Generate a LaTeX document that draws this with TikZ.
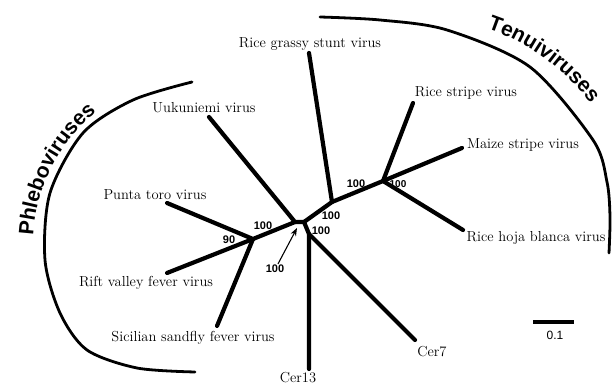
\documentclass[tikz,border=0pt]{standalone}
\usepackage{fontspec}
\setsansfont{Liberation Sans}
\usetikzlibrary{arrows.meta,decorations.text}

\tikzset{
  branch/.style={line width=4.2pt,line cap=round,line join=round},
  leaf/.style={font=\fontsize{14.5}{16}\selectfont,inner sep=1pt},
  boot/.style={font=\sffamily\bfseries\fontsize{11}{12}\selectfont,inner sep=1pt},
  bracket/.style={line width=2.8pt,line cap=round},
  cladename/.style={decorate,decoration={text along path,text align=center,text={#1}}},
}

\begin{document}
\begin{tikzpicture}[x=1pt,y=1pt,>=Stealth]
  \useasboundingbox (0,0) rectangle (612,387);
  % inner nodes of the tree
  \coordinate (n1) at (295,165);
  \coordinate (n2) at (304,165);
  \coordinate (n3) at (309,153);
  \coordinate (n4) at (332,185);
  \coordinate (n5) at (383,206);
  \coordinate (n6) at (253,148);
  % tips
  \coordinate (uuk) at (209,270);
  \coordinate (cer13) at (309,18);
  \coordinate (cer7) at (415,47);
  \coordinate (rgsv) at (309,334);
  \coordinate (rsv) at (413,284);
  \coordinate (msv) at (462,239);
  \coordinate (rhbv) at (463,157);
  \coordinate (pt) at (167,184);
  \coordinate (rvf) at (167,114);
  \coordinate (ssf) at (217,61);

  \draw[branch] (uuk) -- (n1) -- (n2) -- (n3) -- (cer13);
  \draw[branch] (n3) -- (cer7);
  \draw[branch] (n2) -- (n4) -- (rgsv);
  \draw[branch] (n4) -- (n5) -- (rsv);
  \draw[branch] (n5) -- (msv);
  \draw[branch] (n5) -- (rhbv);
  \draw[branch] (n1) -- (n6) -- (pt);
  \draw[branch] (n6) -- (rvf);
  \draw[branch] (n6) -- (ssf);

  % leaf names
  \node[leaf] (l-rgsv) at (310,343) {Rice grassy stunt virus};
  \node[leaf] (l-uuk) at (204,279) {Uukuniemi virus};
  \node[leaf] (l-rsv) at (466,294) {Rice stripe virus};
  \node[leaf] (l-msv) at (523,242) {Maize stripe virus};
  \node[leaf] (l-rhbv) at (536,149) {Rice hoja blanca virus};
  \node[leaf] (l-cer7) at (432,35) {Cer7};
  \node[leaf] (l-cer13) at (298,9) {Cer13};
  \node[leaf] (l-ssf) at (193,49) {Sicilian sandfly fever virus};
  \node[leaf] (l-rvf) at (146,104) {Rift valley fever virus};
  \node[leaf] (l-pt) at (155,192) {Punta toro virus};

  % bootstrap values
  \node[boot] (b1) at (229,147) {90};
  \node[boot] (b2) at (263,161) {100};
  \node[boot] (b3) at (275,118) {100};
  \node[boot] (b4) at (321,156) {100};
  \node[boot] (b5) at (331,171) {100};
  \node[boot] (b6) at (356,203) {100};
  \node[boot,font=\sffamily\bfseries\fontsize{10}{11}\selectfont] (b7) at (398,203) {100};
  \coordinate (b3tip) at (297,159);
  \draw[->,line width=1.1pt] (b3.north) ++(3,0) -- (b3tip);

  % groups
  \draw[bracket] plot[smooth] coordinates {(192,305) (133,287) (83,254) (50,194) (45,127) (60,74) (87,37) (137,19) (195,15)};
  \draw[bracket] plot[smooth] coordinates {(320,370) (380,367) (447,357) (530,320) (593,247) (607,205) (610,170) (609,134)};
  \path[cladename={|\sffamily\bfseries\fontsize{21}{24}\selectfont|Phleboviruses}]
    ([shift={(193:172)}]205,142) arc[start angle=193,end angle=113,radius=172];
  \path[cladename={|\sffamily\bfseries\fontsize{21}{24}\selectfont|Tenuiviruses}]
    ([shift={(94:212)}]420,157) arc[start angle=94,end angle=14,radius=212];

  % scale bar
  \coordinate (sb1) at (533,65);
  \coordinate (sb2) at (574,65);
  \draw[line width=3.2pt] (sb1) -- (sb2);
  \node[font=\sffamily\fontsize{12}{13}\selectfont] (sbl) at (555,52) {0.1};
\end{tikzpicture}
\end{document}
